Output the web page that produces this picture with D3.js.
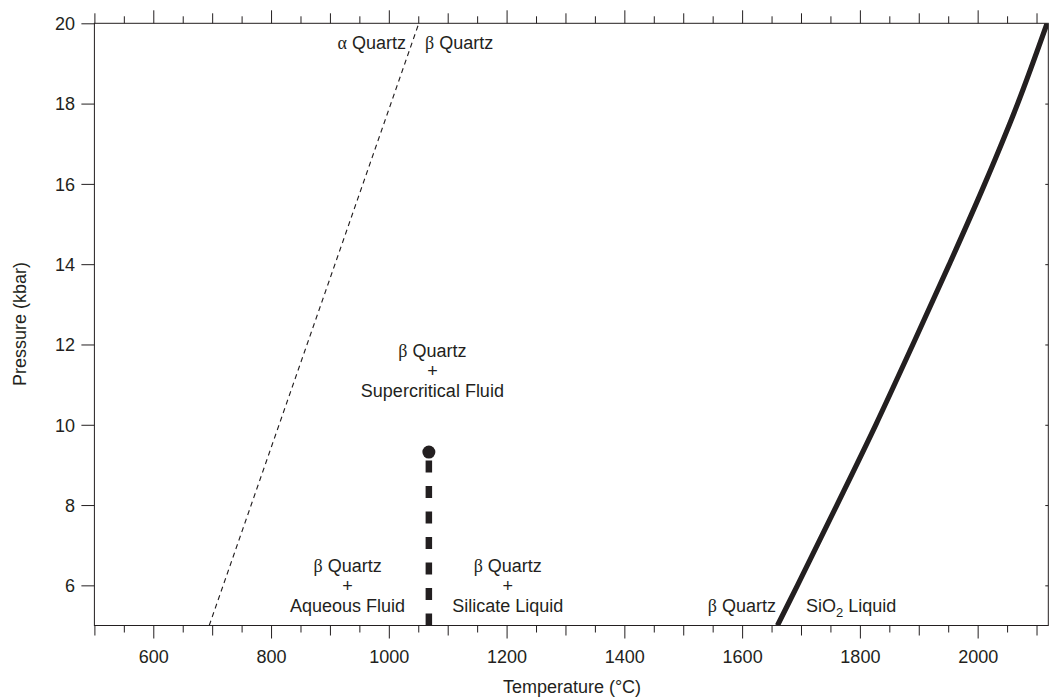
<!DOCTYPE html>
<html>
<head>
<meta charset="utf-8">
<script src="https://cdn.jsdelivr.net/npm/d3@7"></script>
<style>
  html, body { margin: 0; padding: 0; background: #fff; }
  svg { display: block; }
  text { font-family: "Liberation Sans", Arial, sans-serif; fill: #231f20; }
</style>
</head>
<body>
<svg id="chart" width="1050" height="697"></svg>
<script>
// Temperature axis (°C)
const tempDomain = [500, 2120];
const tempTickValues = d3.range(500, 2101, 50);
const tempLabels = [600, 800, 1000, 1200, 1400, 1600, 1800, 2000];

// Pressure axis (kbar)
const pressureDomain = [5, 20];
const pressureLabels = [6, 8, 10, 12, 14, 16, 18, 20];

// alpha/beta quartz transition (straight line)
const alphaBetaT = [695, 1051];
const alphaBetaP = [5, 20];

// Quartz melting curve (beta quartz / SiO2 liquid)
const meltingT = [1660, 1694, 1761, 1827, 1890, 1952, 2012, 2068, 2118];
const meltingP = [5, 6, 8, 10, 12, 14, 16, 18, 20];

// Critical end point and the fluid/liquid boundary below it
const criticalT = 1068;
const criticalP = [5, 9.32];

// Field labels, centred on these temperatures
const fieldLabelsT = [1074, 930, 1202];
const fieldLabelsLines = [
  ["β Quartz", "+", "Supercritical Fluid"],
  ["β Quartz", "+", "Aqueous Fluid"],
  ["β Quartz", "+", "Silicate Liquid"]
];

const ink = "#231f20";
const W = 1050, H = 697;
const margin = { top: 23.3, right: 1.7, bottom: 71.5, left: 94.4 };
const iw = W - margin.left - margin.right;
const ih = H - margin.top - margin.bottom;

const svg = d3.select("#chart");
const g = svg.append("g").attr("transform", `translate(${margin.left},${margin.top})`);

const x = d3.scaleLinear().domain(tempDomain).range([0, iw]);
const y = d3.scaleLinear().domain(pressureDomain).range([ih, 0]);

const tickLen = v => (v % 200 === 0 ? 13 : v % 100 === 0 ? 10 : 7);
const fs = "18px";
const sans = "Liberation Sans, Arial, sans-serif";

g.append("defs").append("clipPath").attr("id", "plot-clip")
  .append("rect").attr("width", iw).attr("height", ih);

// Bottom axis
const xb = g.append("g").attr("transform", `translate(0,${ih})`)
  .call(d3.axisBottom(x).tickValues(tempTickValues)
    .tickFormat(v => tempLabels.includes(v) ? String(v) : ""));
xb.select(".domain").remove();
xb.selectAll(".tick line").attr("y2", d => tickLen(d)).attr("stroke", ink);
xb.selectAll(".tick text").attr("y", 37.5).attr("dy", 0)
  .style("font-size", fs).style("font-family", sans).attr("fill", ink);

// Top axis
const xt = g.append("g")
  .call(d3.axisTop(x).tickValues(tempTickValues).tickFormat(""));
xt.select(".domain").remove();
xt.selectAll(".tick line").attr("y2", d => -tickLen(d)).attr("stroke", ink);

// Left axis
const yl = g.append("g")
  .call(d3.axisLeft(y).tickValues(pressureLabels).tickSize(13).tickPadding(6).tickFormat(d3.format("d")));
yl.select(".domain").remove();
yl.selectAll(".tick line").attr("stroke", ink);
yl.selectAll(".tick text").attr("x", -19.4).attr("dy", "0.35em")
  .style("font-size", fs).style("font-family", sans).attr("fill", ink);

// Right axis (short inward ticks)
const yr = g.append("g").attr("transform", `translate(${iw},0)`)
  .call(d3.axisLeft(y).tickValues(pressureLabels.filter(p => p < 20)).tickSize(3).tickFormat(""));
yr.select(".domain").remove();
yr.selectAll(".tick line").attr("stroke", ink);

// Frame
g.append("rect").attr("width", iw).attr("height", ih)
  .attr("fill", "none").attr("stroke", ink).attr("stroke-width", 1);

const plot = g.append("g").attr("clip-path", "url(#plot-clip)");

// alpha/beta transition
plot.append("path")
  .datum(alphaBetaT.map((t, i) => [t, alphaBetaP[i]]))
  .attr("d", d3.line().x(d => x(d[0])).y(d => y(d[1])))
  .attr("fill", "none").attr("stroke", ink).attr("stroke-width", 1.1)
  .attr("stroke-dasharray", "5,4");

// Melting curve
plot.append("path")
  .datum(meltingT.map((t, i) => [t, meltingP[i]]))
  .attr("d", d3.line().x(d => x(d[0])).y(d => y(d[1])).curve(d3.curveCatmullRom))
  .attr("fill", "none").attr("stroke", ink).attr("stroke-width", 5.2);

// Fluid / liquid boundary below the critical end point
plot.append("path")
  .datum(criticalP.map(p => [criticalT, p]))
  .attr("d", d3.line().x(d => x(d[0])).y(d => y(d[1])))
  .attr("fill", "none").attr("stroke", ink).attr("stroke-width", 6.5)
  .attr("stroke-dasharray", "12,13.5");

g.append("circle")
  .attr("cx", x(criticalT)).attr("cy", y(criticalP[1])).attr("r", 6.5)
  .attr("fill", ink);

// Labels
const greek = "Liberation Serif, Times New Roman, serif";
function quartzText(sel, greekChar, rest) {
  sel.append("tspan").style("font-family", greek).text(greekChar);
  sel.append("tspan").text(rest);
}

// Field labels (three stacked lines)
const labelBaselines = [[357, 377, 397], [571.5, 592, 611.5], [571.5, 592, 611.5]];
fieldLabelsLines.forEach((lines, k) => {
  const cx = x(fieldLabelsT[k]) + margin.left;
  lines.forEach((line, j) => {
    const t = svg.append("text").attr("x", cx).attr("y", labelBaselines[k][j])
      .attr("text-anchor", "middle").style("font-size", fs);
    if (line.startsWith("β")) quartzText(t, "β", line.slice(1));
    else t.text(line);
  });
});

// Alpha / beta quartz labels near top
const ta = svg.append("text").attr("x", 406).attr("y", 49).attr("text-anchor", "end").style("font-size", fs);
quartzText(ta, "α", " Quartz");
const tb = svg.append("text").attr("x", 425).attr("y", 49).attr("text-anchor", "start").style("font-size", fs);
quartzText(tb, "β", " Quartz");

// Melting curve labels
const tm = svg.append("text").attr("x", 776).attr("y", 612).attr("text-anchor", "end").style("font-size", fs);
quartzText(tm, "β", " Quartz");
const ts = svg.append("text").attr("x", 806).attr("y", 612).attr("text-anchor", "start").style("font-size", fs);
ts.append("tspan").text("SiO");
ts.append("tspan").attr("dy", 5).style("font-size", "13px").text("2");
ts.append("tspan").attr("dy", -5).text(" Liquid");

// Axis titles
svg.append("text").attr("x", 572).attr("y", 693).attr("text-anchor", "middle")
  .style("font-size", fs).text("Temperature (°C)");
svg.append("text").attr("transform", "translate(26,324) rotate(-90)")
  .attr("text-anchor", "middle").style("font-size", fs).text("Pressure (kbar)");
</script>
</body>
</html>
